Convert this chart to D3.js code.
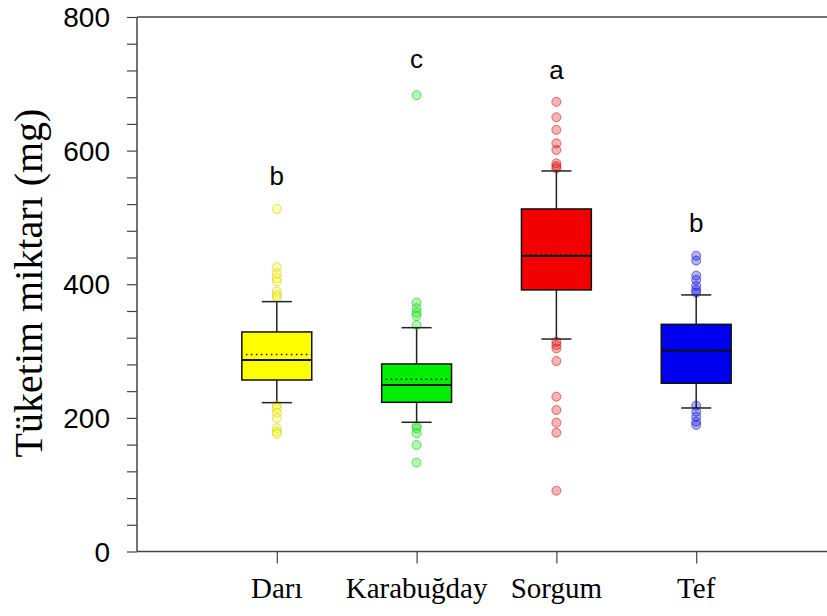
<!DOCTYPE html>
<html>
<head>
<meta charset="utf-8">
<script src="https://cdn.jsdelivr.net/npm/d3@7"></script>
<style>
  body { margin: 0; background: #fff; }
  .tick-label { font-family: Arial, "Liberation Sans", sans-serif; font-size: 28px; fill: #000; }
  .cat-label { font-family: "Times New Roman", "Liberation Serif", serif; font-size: 29px; fill: #000; }
  .title { font-family: "Times New Roman", "Liberation Serif", serif; font-size: 40px; fill: #000; }
  .letter { font-family: Arial, "Liberation Sans", sans-serif; font-size: 26px; fill: #000; }
</style>
</head>
<body>
<div id="graph"></div>
<script>
// data
var categories = ["Darı", "Karabuğday", "Sorgum", "Tef"];
var colors = ["#ffff00", "#00ee00", "#f20000", "#0000f0"];
var q1 = [256.7, 223.3, 391.5, 251.8];
var median = [286.7, 249.3, 442.4, 300.6];
var q3 = [328.6, 280.7, 512.7, 340];
var mean = [295, 257.8, 444, 301.5];
var whiskerLow = [222.8, 193.4, 318, 214.8];
var whiskerHigh = [374, 335, 569.6, 384];
var outliers = [
  [512.7, 425.5, 416.5, 409, 404, 389, 384, 380.5, 219, 214.4, 207.8, 199.4, 184.4, 179.3, 176],
  [683, 372.5, 364, 357.5, 352.6, 339, 188, 184.4, 177, 159.4, 133],
  [673, 650, 631, 611, 601, 581, 577, 573.6, 314, 309, 304, 285, 231.7, 211.8, 192.8, 177.8, 91],
  [442.8, 435.3, 413, 406.4, 397.5, 391.5, 387.4, 218.3, 209.3, 201.8, 194.3, 189.4]
];
var letters = ["b", "c", "a", "b"];
var letterY = [549, 724, 707, 478];
var yTicks = [0, 200, 400, 600, 800];
var yMinorTicks = d3.range(0, 801, 40);

var width = 827, height = 616;
var plotLeft = 137, plotTop = 17, plotBottom = 551.5, plotRight = 827;

var svg = d3.select("#graph").append("svg")
  .attr("width", width)
  .attr("height", height);

var x = d3.scalePoint().domain(categories).range([plotLeft, 836]).padding(1);
var y = d3.scaleLinear().domain([0, 800]).range([plotBottom, plotTop]);

var boxW = x.step() * 0.5;
var capW = x.step() * 0.215;

// axes
var yaxis = d3.axisLeft(y).tickValues(yMinorTicks).tickSize(10).tickFormat("");
var gy = svg.append("g")
  .attr("transform", "translate(" + plotLeft + ",0)")
  .call(yaxis);
gy.select(".domain").remove();
gy.selectAll(".tick line").attr("stroke", "#444").attr("stroke-width", 1.2);

svg.selectAll("text.tick-label")
  .data(yTicks)
  .enter()
  .append("text")
  .attr("class", "tick-label")
  .attr("x", 110)
  .attr("y", function(d) { return y(d); })
  .attr("dy", "0.36em")
  .attr("text-anchor", "end")
  .text(function(d) { return d; });

var xaxis = d3.axisBottom(x).tickSize(12).tickFormat("");
var gx = svg.append("g")
  .attr("transform", "translate(0," + plotBottom + ")")
  .call(xaxis);
gx.select(".domain").remove();
gx.selectAll(".tick line").attr("stroke", "#444").attr("stroke-width", 1.2);

svg.selectAll("text.cat-label")
  .data(categories)
  .enter()
  .append("text")
  .attr("class", "cat-label")
  .attr("x", function(d) { return x(d); })
  .attr("y", 598)
  .attr("text-anchor", "middle")
  .text(function(d) { return d; });

// frame lines (left, bottom, top)
svg.append("line").attr("x1", plotLeft).attr("x2", plotLeft).attr("y1", plotTop).attr("y2", plotBottom)
  .attr("stroke", "#444").attr("stroke-width", 1.5);
svg.append("line").attr("x1", plotLeft).attr("x2", plotRight).attr("y1", plotBottom).attr("y2", plotBottom)
  .attr("stroke", "#444").attr("stroke-width", 1.5);
svg.append("line").attr("x1", plotLeft).attr("x2", plotRight).attr("y1", plotTop).attr("y2", plotTop)
  .attr("stroke", "#444").attr("stroke-width", 1.5);

svg.append("text")
  .attr("class", "title")
  .attr("transform", "translate(42," + 283 + ") rotate(-90)")
  .attr("text-anchor", "middle")
  .text("Tüketim miktarı (mg)");

// boxes
categories.forEach(function(c, i) {
  var cx = x(c);
  var g = svg.append("g");

  // whiskers
  g.append("line").attr("x1", cx).attr("x2", cx)
    .attr("y1", y(q3[i])).attr("y2", y(whiskerHigh[i]))
    .attr("stroke", "#222").attr("stroke-width", 1.5);
  g.append("line").attr("x1", cx).attr("x2", cx)
    .attr("y1", y(q1[i])).attr("y2", y(whiskerLow[i]))
    .attr("stroke", "#222").attr("stroke-width", 1.5);

  // outliers
  g.selectAll("circle")
    .data(outliers[i])
    .enter()
    .append("circle")
    .attr("cx", cx)
    .attr("cy", function(d) { return y(d); })
    .attr("r", 4.5)
    .attr("fill", colors[i])
    .attr("fill-opacity", 0.3)
    .attr("stroke", d3.color(colors[i]).darker(0.8))
    .attr("stroke-opacity", 0.5)
    .attr("stroke-width", 1);

  // caps
  [whiskerHigh[i], whiskerLow[i]].forEach(function(v) {
    g.append("line").attr("x1", cx - capW / 2).attr("x2", cx + capW / 2)
      .attr("y1", y(v)).attr("y2", y(v))
      .attr("stroke", "#222").attr("stroke-width", 1.5);
  });

  g.append("rect")
    .attr("x", cx - boxW / 2)
    .attr("y", y(q3[i]))
    .attr("width", boxW)
    .attr("height", y(q1[i]) - y(q3[i]))
    .attr("fill", colors[i])
    .attr("stroke", "#111")
    .attr("stroke-width", 1.5);

  g.append("line").attr("x1", cx - boxW / 2).attr("x2", cx + boxW / 2)
    .attr("y1", y(median[i])).attr("y2", y(median[i]))
    .attr("stroke", "#111").attr("stroke-width", 2);

  g.append("line").attr("x1", cx - boxW / 2 + 4).attr("x2", cx + boxW / 2)
    .attr("y1", y(mean[i])).attr("y2", y(mean[i]))
    .attr("stroke", "#111").attr("stroke-width", 1.5)
    .attr("stroke-dasharray", "1.5,3.5");

  svg.append("text")
    .attr("class", "letter")
    .attr("x", cx)
    .attr("y", y(letterY[i]))
    .attr("text-anchor", "middle")
    .text(letters[i]);
});
</script>
</body>
</html>
